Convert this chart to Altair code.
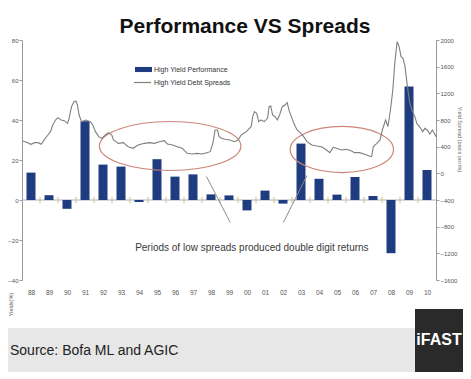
import altair as alt
import pandas as pd

FONT = "Liberation Sans"

# ---- data ----
perf_years = list(range(1988, 2011))
perf_values = [13.7, 2.4, -4.4, 39.4, 17.7, 16.7, -1.0, 20.4, 11.7, 12.8, 2.8, 2.3,
               -5.2, 4.7, -1.8, 28.2, 10.6, 2.7, 11.5, 2.0, -26.6, 56.8, 15.0]

spread_t = [1988.04, 1988.25, 1988.5, 1988.7, 1988.9, 1989.07, 1989.25, 1989.44, 1989.58, 1989.71,
            1989.86, 1989.99, 1990.17, 1990.35, 1990.53, 1990.62, 1990.75, 1990.89, 1990.99, 1991.08,
            1991.17, 1991.31, 1991.53, 1991.8, 1991.93, 1992.08, 1992.26, 1992.45, 1992.63, 1992.8,
            1992.99, 1993.08, 1993.35, 1993.63, 1993.9, 1994.17, 1994.45, 1994.81, 1995.08, 1995.36,
            1995.63, 1995.9, 1996.08, 1996.36, 1996.63, 1996.9, 1997.18, 1997.45, 1997.72, 1998.0,
            1998.27, 1998.46, 1998.6, 1998.73, 1998.86, 1998.95, 1999.09, 1999.28, 1999.55, 1999.82,
            2000.0, 2000.18, 2000.46, 2000.73, 2000.82, 2000.91, 2001.04, 2001.15, 2001.28, 2001.46,
            2001.64, 2001.73, 2001.82, 2001.92, 2002.06, 2002.19, 2002.31, 2002.46, 2002.61, 2002.73,
            2002.86, 2002.97, 2003.1, 2003.28, 2003.46, 2003.65, 2003.83, 2004.1, 2004.37, 2004.64,
            2004.92, 2005.1, 2005.29, 2005.47, 2005.74, 2006.01, 2006.29, 2006.47, 2006.74, 2007.01,
            2007.29, 2007.42, 2007.52, 2007.71, 2007.89, 2008.02, 2008.2, 2008.33, 2008.47, 2008.6,
            2008.71, 2008.84, 2008.95, 2009.06, 2009.17, 2009.28, 2009.39, 2009.53, 2009.66, 2009.84,
            2009.93, 2010.11, 2010.26, 2010.38, 2010.51, 2010.66, 2010.8, 2010.93, 2011.0]
spread_bps = [485, 465, 435, 460, 460, 435, 510, 575, 625, 725,
              800, 835, 800, 790, 750, 825, 1000, 1075, 1085, 1025,
              875, 775, 800, 775, 725, 625, 550, 525, 575, 610,
              575, 500, 450, 460, 400, 375, 425, 450, 460, 450,
              475, 490, 440, 425, 400, 375, 300, 290, 300, 290,
              310, 325, 450, 650, 650, 550, 525, 510, 500, 475,
              500, 575, 625, 700, 850, 925, 900, 775, 800, 775,
              825, 1000, 1010, 875, 850, 800, 875, 1000, 1025, 1060,
              925, 850, 750, 650, 610, 550, 475, 425, 410, 400,
              350, 310, 390, 375, 350, 360, 340, 310, 310, 290,
              260, 250, 400, 450, 500, 650, 800, 700, 950, 1250,
              1650, 1975, 1900, 1750, 1725, 1600, 1350, 1075, 950, 840,
              750, 690, 625, 675, 650, 590, 650, 590, 550]

left_ticks = [-40, -20, 0, 20, 40, 60, 80]
right_ticks = [-1600, -1200, -800, -400, 0, 400, 800, 1200, 1600, 2000]
boundary_years = list(range(1989, 2011))

series_bar = "High Yield Performance"
series_line = "High Yield Debt Spreads"

# ellipses (center year, center value, half-width in years, height/width ratio)
ellipse_cx = [1996.23, 2005.77]
ellipse_cy = [27.0, 25.25]
ellipse_rx = [3.93, 2.87]
ellipse_ratio = [0.346, 0.446]

# ---- sizes ----
W, H = 414, 240
PX_PER_YEAR = W / 23.0

bars_df = pd.DataFrame({"year": perf_years, "perf": perf_values})
bars_df["x1"] = bars_df["year"] + 0.25
bars_df["x2"] = bars_df["year"] + 0.75
bars_df["series"] = series_bar

line_df = pd.DataFrame({"t": spread_t, "bps": spread_bps, "series": series_line})

x_scale = alt.Scale(domain=[1988, 2011], nice=False, zero=False)
x_axis = alt.Axis(values=[y + 0.5 for y in perf_years],
                  labelExpr="slice('0' + (floor(datum.value) % 100), -2)",
                  domain=False, ticks=False, grid=False, labelFontSize=6.5,
                  labelColor="#555555", labelPadding=9, title=None,
                  labelFlush=False, labelOverlap=False)

yl_scale = alt.Scale(domain=[-40, 80], nice=False, zero=False)
yl_axis = alt.Axis(values=left_ticks, format="d", title="Yields(%)", titleFontSize=5.5,
                   titleX=-12, titleY=264, titleAngle=270, titleAlign="center",
                   titleBaseline="middle", titleFontWeight="normal", titleColor="#666666",
                   labelFontSize=6, labelColor="#555555", tickSize=3, labelPadding=1,
                   domainColor="#9a9a9a", tickColor="#9a9a9a", grid=False)

yr_scale = alt.Scale(domain=[-1600, 2000], nice=False, zero=False)
yr_axis = alt.Axis(orient="right", values=right_ticks, format="d",
                   title="Yield Spread (basis points)", titleFontSize=5.5,
                   titleX=23, titleY=99, titleAngle=90, titleAlign="center",
                   titleBaseline="middle", titleFontWeight="normal", titleColor="#666666",
                   labelFontSize=6, labelColor="#555555", tickSize=3, labelPadding=1,
                   domainColor="#9a9a9a", tickColor="#9a9a9a", grid=False)


def X(field):
    return alt.X(field, type="quantitative", scale=x_scale, axis=x_axis)


def YL(field):
    return alt.Y(field, type="quantitative", scale=yl_scale, axis=yl_axis)


one = alt.Data(values=[{}])

footer = alt.Chart(one).mark_rect(color="#e7e7e7").encode(
    x=alt.value(-14), x2=alt.value(393), y=alt.value(288), y2=alt.value(332))
ifast_box = alt.Chart(one).mark_rect(color="#2a2a2a").encode(
    x=alt.value(393), x2=alt.value(441), y=alt.value(269), y2=alt.value(332))

zero_df = pd.DataFrame({"a": [1988], "b": [2011], "v": [0]})
zero_line = alt.Chart(zero_df).mark_rule(color="#a9b1c0", strokeWidth=1).encode(
    x=X("a"), x2="b", y=YL("v"))

ticks_df = pd.DataFrame({"yr": boundary_years, "lo": -1.6, "hi": 1.6})
year_ticks = alt.Chart(ticks_df).mark_rule(color="#d3bf78", strokeWidth=1).encode(
    x=X("yr"), y=YL("lo"), y2="hi")

bars = alt.Chart(bars_df).mark_bar(strokeWidth=0).encode(
    x=X("x1"), x2="x2", y=YL("perf"), y2=alt.datum(0),
    fill=alt.Fill("series:N",
                  scale=alt.Scale(domain=[series_bar], range=["#1f3c80"]),
                  legend=alt.Legend(orient="none", legendX=113, legendY=21, title=None,
                                    symbolType="M-1,-0.3H1V0.3H-1Z", symbolSize=289,
                                    symbolStrokeWidth=0, labelFontSize=7,
                                    labelColor="#333333", labelOffset=2, padding=0)))

ellipses = []
for cx, cy, rx, ratio in zip(ellipse_cx, ellipse_cy, ellipse_rx, ellipse_ratio):
    path = "M-1,0A1,{r},0,1,0,1,0A1,{r},0,1,0,-1,0Z".format(r=ratio)
    size = (2 * rx * PX_PER_YEAR) ** 2
    edf = pd.DataFrame({"cx": [cx], "cy": [cy]})
    ellipses.append(alt.Chart(edf).mark_point(shape=path, size=size, filled=False,
                                              stroke="#cc8578", strokeWidth=1.2, opacity=1).encode(
        x=X("cx"), y=YL("cy")))

arrows_df = pd.DataFrame({"x0": [1998.25, 2003.83], "y0": [11.75, 12.25],
                          "x1": [1999.57, 2002.52], "y1": [-11.25, -11.25]})
arrows = alt.Chart(arrows_df).mark_rule(color="#8c8c8c", strokeWidth=1).encode(
    x=X("x0"), y=YL("y0"), x2="x1", y2="y1")

note_df = pd.DataFrame({"t": [2000.77], "v": [-23.75],
                        "txt": ["Periods of low spreads produced double digit returns"]})
note = alt.Chart(note_df).mark_text(fontSize=10, font=FONT, color="#3a3a3a",
                                    baseline="middle", align="center").encode(
    x=X("t"), y=YL("v"), text="txt:N")

title = alt.Chart(one).mark_text(text="Performance VS Spreads", fontSize=21, font=FONT,
                                 fontWeight="bold", color="#111111", align="center",
                                 baseline="alphabetic").encode(
    x=alt.value(223), y=alt.value(-7))
source = alt.Chart(one).mark_text(text="Source: Bofa ML and AGIC", fontSize=14, font=FONT,
                                  color="#222222", align="left", baseline="alphabetic").encode(
    x=alt.value(-12), y=alt.value(315))
ifast = alt.Chart(one).mark_text(text="iFAST", fontSize=16, font=FONT, fontWeight="bold",
                                 color="#ffffff", align="center", baseline="alphabetic").encode(
    x=alt.value(417), y=alt.value(305))

left = alt.layer(footer, ifast_box, zero_line, year_ticks, bars, *ellipses, arrows, note,
                 title, source, ifast)

line = alt.Chart(line_df).mark_line(strokeWidth=1.1, interpolate="linear").encode(
    x=X("t"),
    y=alt.Y("bps", type="quantitative", scale=yr_scale, axis=yr_axis),
    stroke=alt.Stroke("series:N",
                      scale=alt.Scale(domain=[series_line], range=["#7f7f7f"]),
                      legend=alt.Legend(orient="none", legendX=111, legendY=33, title=None,
                                        symbolType="stroke", symbolSize=289,
                                        symbolStrokeWidth=1.2, labelFontSize=7,
                                        labelColor="#333333", labelOffset=2, padding=0)))

chart = alt.layer(left, line).resolve_scale(y="independent").properties(
    width=W, height=H,
    autosize=alt.AutoSizeParams(type="none"),
    padding={"left": 14, "top": 32, "right": 27, "bottom": 92},
).configure_view(stroke=None).configure_axis(
    labelFont=FONT, titleFont=FONT
).configure_legend(labelFont=FONT)

chart.save("out.html", embed_options={"renderer": "svg", "actions": False})
